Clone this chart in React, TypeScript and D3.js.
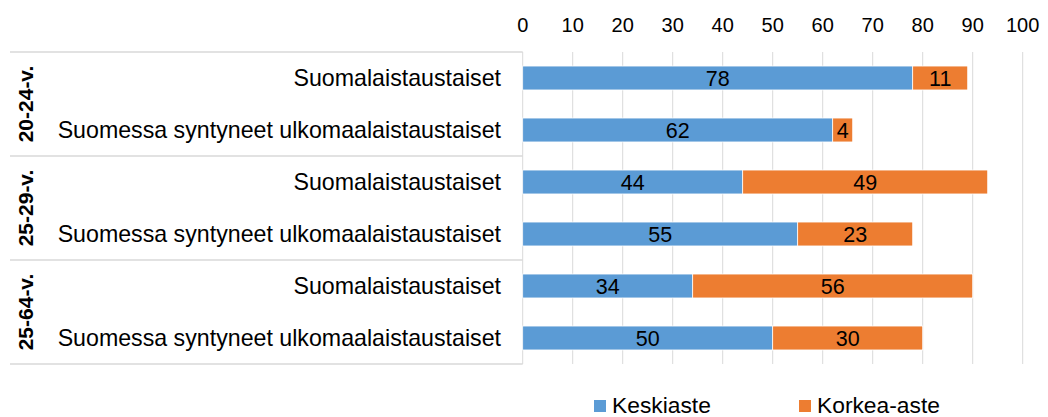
import React from "react";
import * as d3 from "d3";

const groups = ["20-24-v.", "25-29-v.", "25-64-v."];
const rowLabels = [
  "Suomalaistaustaiset",
  "Suomessa syntyneet ulkomaalaistaustaiset",
  "Suomalaistaustaiset",
  "Suomessa syntyneet ulkomaalaistaustaiset",
  "Suomalaistaustaiset",
  "Suomessa syntyneet ulkomaalaistaustaiset",
];
const keskiaste = [78, 62, 44, 55, 34, 50];
const korkeaAste = [11, 4, 49, 23, 56, 30];
const seriesNames = ["Keskiaste", "Korkea-aste"];
const colors = ["#5B9BD5", "#ED7D31"];
const xTicks = [0, 10, 20, 30, 40, 50, 60, 70, 80, 90, 100];

const W = 1048;
const H = 417;
const plotLeft = 522.7;
const plotRight = 1022.7;
const plotTop = 52;
const plotBottom = 364;
const boxLeft = 10;
const font = "Arial, 'Liberation Sans', sans-serif";

export default function App() {
  const x = d3.scaleLinear().domain([0, 100]).range([plotLeft, plotRight]);
  const idx = rowLabels.map((_, i) => String(i));
  const y = d3
    .scaleBand<string>()
    .domain(idx)
    .range([plotTop, plotBottom])
    .paddingInner(0.54)
    .paddingOuter(0.27);
  const groupScale = d3
    .scaleBand<string>()
    .domain(groups)
    .range([plotTop, plotBottom]);

  const stackData = rowLabels.map((_, i) => ({
    i: String(i),
    Keskiaste: keskiaste[i],
    "Korkea-aste": korkeaAste[i],
  }));
  const stack = d3.stack<any>().keys(seriesNames)(stackData);

  const grid = "#D9D9D9";

  return (
    <svg
      width={W}
      height={H}
      style={{ position: "absolute", left: 0, top: 0, background: "#fff" }}
      fontFamily={font}
    >
      {xTicks.map((t) => (
        <line
          key={"g" + t}
          x1={x(t)}
          x2={x(t)}
          y1={plotTop}
          y2={plotBottom}
          stroke={grid}
          strokeWidth={1}
        />
      ))}
      {xTicks.map((t) => (
        <text
          key={"t" + t}
          x={x(t)}
          y={32}
          textAnchor="middle"
          fontSize={20}
          fill="#000"
        >
          {t}
        </text>
      ))}
      {[0, 1, 2, 3].map((k) => {
        const yy = plotTop + (k * (plotBottom - plotTop)) / 3;
        return (
          <line
            key={"h" + k}
            x1={boxLeft}
            x2={plotLeft}
            y1={yy}
            y2={yy}
            stroke={grid}
            strokeWidth={1.5}
          />
        );
      })}
      {stack.map((s, si) =>
        s.map((d, di) => (
          <rect
            key={si + "-" + di}
            x={x(d[0])}
            y={y(String(di))}
            width={x(d[1]) - x(d[0])}
            height={y.bandwidth()}
            fill={colors[si]}
            stroke="#fff"
            strokeWidth={0.75}
          />
        ))
      )}
      {stack.map((s, si) =>
        s.map((d, di) => (
          <text
            key={"l" + si + "-" + di}
            x={(x(d[0]) + x(d[1])) / 2}
            y={(y(String(di)) as number) + y.bandwidth() / 2}
            dy="0.36em"
            textAnchor="middle"
            fontSize={21.5}
            fill="#000"
          >
            {d[1] - d[0]}
          </text>
        ))
      )}
      {rowLabels.map((lab, i) => (
        <text
          key={"r" + i}
          x={501}
          y={(y(String(i)) as number) + y.bandwidth() / 2}
          dy="0.36em"
          textAnchor="end"
          fontSize={23.2}
          fill="#000"
        >
          {lab}
        </text>
      ))}
      {groups.map((g) => {
        const cy = (groupScale(g) as number) + groupScale.bandwidth() / 2;
        return (
          <text
            key={g}
            transform={`translate(33,${cy}) rotate(-90)`}
            textAnchor="middle"
            fontSize={21}
            fontWeight="bold"
            fill="#000"
          >
            {g}
          </text>
        );
      })}
      {seriesNames.map((n, i) => {
        const lx = i === 0 ? 594 : 799;
        return (
          <g key={n}>
            <rect x={lx} y={400} width={12} height={12} fill={colors[i]} />
            <text x={lx + 18} y={413} fontSize={22.8} fill="#000">
              {n}
            </text>
          </g>
        );
      })}
    </svg>
  );
}
